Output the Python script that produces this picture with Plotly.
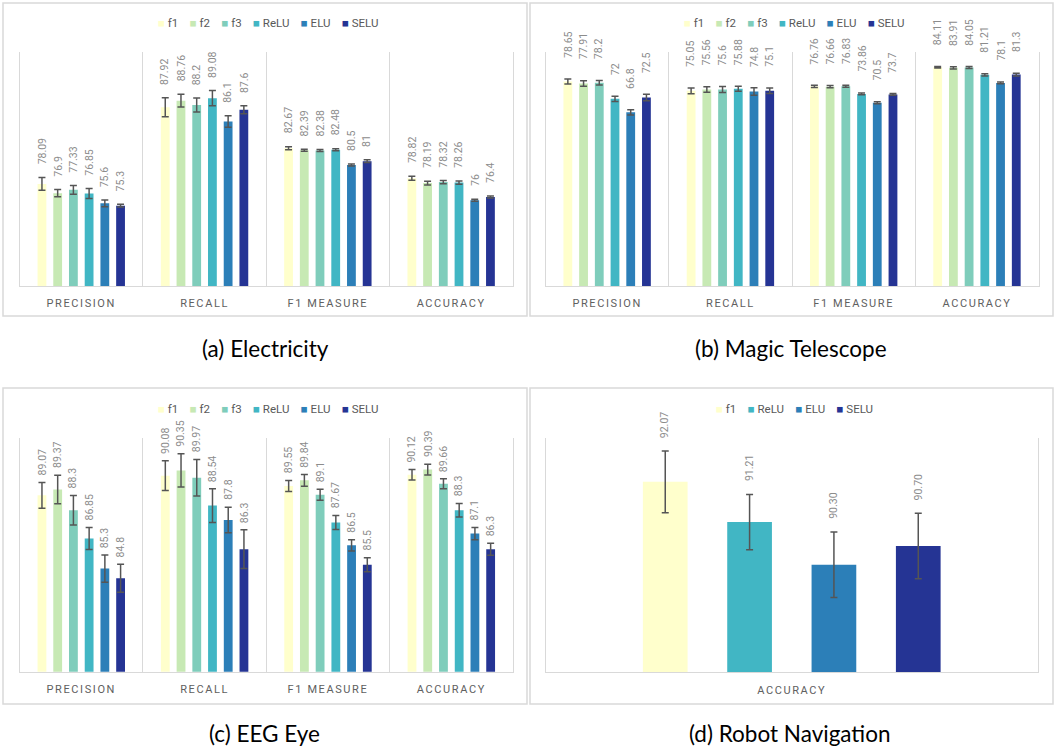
import plotly.graph_objects as go

W, H = 1054, 751

metrics = ["PRECISION", "RECALL", "F1 MEASURE", "ACCURACY"]
activations = ["f1", "f2", "f3", "ReLU", "ELU", "SELU"]
palette = {
    "f1": "#ffffcc", "f2": "#c7e9b4", "f3": "#7fcdbb",
    "ReLU": "#41b6c4", "ELU": "#2c7fb8", "SELU": "#253494",
}

# Electricity (values per activation, in the order of `activations`)
elec_precision = [78.09, 76.9, 77.33, 76.85, 75.6, 75.3]
elec_recall = [87.92, 88.76, 88.2, 89.08, 86.1, 87.6]
elec_f1 = [82.67, 82.39, 82.38, 82.48, 80.5, 81]
elec_accuracy = [78.82, 78.19, 78.32, 78.26, 76, 76.4]
elec_precision_sd = [0.83, 0.47, 0.57, 0.64, 0.43, 0.17]
elec_recall_sd = [1.21, 0.81, 0.89, 0.98, 0.74, 0.51]
elec_f1_sd = [0.19, 0.13, 0.13, 0.13, 0.13, 0.17]
elec_accuracy_sd = [0.26, 0.23, 0.21, 0.21, 0.13, 0.13]

# Magic Telescope
magic_precision = [78.65, 77.91, 78.2, 72, 66.8, 72.5]
magic_recall = [75.05, 75.56, 75.6, 75.88, 74.8, 75.1]
magic_f1 = [76.76, 76.66, 76.83, 73.86, 70.5, 73.7]
magic_accuracy = [84.11, 83.91, 84.05, 81.21, 78.1, 81.3]
magic_precision_sd = [0.95, 1.07, 0.88, 1.0, 1.0, 1.26]
magic_recall_sd = [1.14, 1.07, 1.14, 0.95, 1.45, 1.07]
magic_f1_sd = [0.45, 0.45, 0.35, 0.35, 0.4, 0.35]
magic_accuracy_sd = [0.3, 0.45, 0.35, 0.4, 0.35, 0.55]

# EEG Eye
eeg_precision = [89.07, 89.37, 88.3, 86.85, 85.3, 84.8]
eeg_recall = [90.08, 90.35, 89.97, 88.54, 87.8, 86.3]
eeg_f1 = [89.55, 89.84, 89.1, 87.67, 86.5, 85.5]
eeg_accuracy = [90.12, 90.39, 89.66, 88.3, 87.1, 86.3]
eeg_precision_sd = [0.66, 0.73, 0.76, 0.57, 0.70, 0.72]
eeg_recall_sd = [0.77, 0.86, 0.94, 0.87, 0.66, 1.0]
eeg_f1_sd = [0.28, 0.30, 0.28, 0.36, 0.29, 0.36]
eeg_accuracy_sd = [0.27, 0.28, 0.26, 0.35, 0.31, 0.31]

# Robot Navigation (accuracy only)
robot_metrics = ["ACCURACY"]
robot_activations = ["f1", "ReLU", "ELU", "SELU"]
robot_accuracy = [92.07, 91.21, 90.30, 90.70]
robot_accuracy_sd = [0.66, 0.59, 0.70, 0.70]

captions = ["(a) Electricity", "(b) Magic Telescope", "(c) EEG Eye", "(d) Robot Navigation"]

GRID = "#d9d9d9"
LABEL_GRAY = "#8c8c8c"
TEXT_GRAY = "#606060"
ERR_GRAY = "#555555"

fig = go.Figure()
annotations = []
shapes = []


def px_x(v):
    return v / W


def px_y(v):
    return 1 - v / H


def add_panel(n, cats, names, table, sd_table, yrange, fmt, gap, groupgap,
              label_gap_px, plot_box, frame_box, legend_xy, caption_xy, caption):
    sx = "" if n == 1 else str(n)
    xref, yref = "x" + sx, "y" + sx
    x0, y0, x1, y1 = plot_box
    slot = (1 - gap) / len(names)
    bar_w = slot * (1 - groupgap)
    for k, name in enumerate(names):
        y = [col[k] for col in table]
        e = [col[k] for col in sd_table]
        offset = -(1 - gap) / 2 + slot * k + (slot - bar_w) / 2
        fig.add_trace(go.Bar(
            x=cats, y=y, name=name, xaxis=xref, yaxis=yref,
            width=bar_w, offset=offset, showlegend=False,
            marker=dict(color=palette[name], line=dict(width=0)),
            error_y=dict(type="data", array=e, color=ERR_GRAY,
                         thickness=1.5, width=3.5),
        ))
        centre = -(1 - gap) / 2 + slot * (k + 0.5)
        for i, (v, s) in enumerate(zip(y, e)):
            # value label sits above the top of the error bar
            annotations.append(dict(
                x=i + centre, y=v + s, xref=xref, yref=yref,
                text=fmt(v), showarrow=False, textangle=-90,
                xanchor="center", yanchor="bottom", yshift=label_gap_px,
                borderpad=0,
                font=dict(family="Roboto", size=10.5, color=LABEL_GRAY),
            ))

    fig.update_layout({
        "xaxis" + sx: dict(
            domain=[px_x(x0), px_x(x1)], anchor=yref, type="category",
            tickson="boundaries", showgrid=True, gridcolor=GRID, gridwidth=1,
            showline=True, linecolor=GRID, linewidth=1, ticks="",
            ticklabelstandoff=7, fixedrange=True,
            tickfont=dict(family="Roboto", size=11, color=TEXT_GRAY),
        ),
        "yaxis" + sx: dict(
            domain=[px_y(y1), px_y(y0)], anchor=xref, range=yrange,
            showticklabels=False, showgrid=False, zeroline=False,
            showline=True, mirror=True, linecolor=GRID, linewidth=1,
            ticks="", fixedrange=True,
        ),
    })

    fx0, fy0, fx1, fy1 = frame_box
    shapes.append(dict(type="rect", xref="paper", yref="paper",
                       x0=px_x(fx0), x1=px_x(fx1), y0=px_y(fy1), y1=px_y(fy0),
                       line=dict(color=GRID, width=1.5), layer="below"))

    nb = "\u00a0"
    parts = [f'<span style="color:{palette[nm]}">\u25a0</span>{nb}{nm}' for nm in names]
    annotations.append(dict(
        x=px_x(legend_xy[0]), y=px_y(legend_xy[1]), xref="paper", yref="paper",
        text=(nb * 4).join(parts), showarrow=False, xanchor="center", yanchor="middle",
        font=dict(family="Roboto", size=11.5, color="#595959"),
    ))
    annotations.append(dict(
        x=px_x(caption_xy[0]), y=px_y(caption_xy[1]), xref="paper", yref="paper",
        text=caption, showarrow=False, xanchor="center", yanchor="middle",
        font=dict(family="Lato", size=22.5, color="#000000"),
    ))


fmt_general = lambda v: f"{v:g}"
fmt_two = lambda v: f"{v:.2f}"

add_panel(1, metrics, activations,
          [elec_precision, elec_recall, elec_f1, elec_accuracy],
          [elec_precision_sd, elec_recall_sd, elec_f1_sd, elec_accuracy_sd],
          [65, 95], fmt_general, 0.235, 0.44, 12,
          (19.6, 52, 512.8, 286), (3, 3, 527, 316), (268, 23), (265, 348), captions[0])

add_panel(2, metrics, activations,
          [magic_precision, magic_recall, magic_f1, magic_accuracy],
          [magic_precision_sd, magic_recall_sd, magic_f1_sd, magic_accuracy_sd],
          [0, 90], fmt_general, 0.235, 0.44, 20,
          (545.5, 52, 1038.6, 286), (530, 3, 1053, 316), (794, 23), (791, 348), captions[1])

add_panel(3, metrics, activations,
          [eeg_precision, eeg_recall, eeg_f1, eeg_accuracy],
          [eeg_precision_sd, eeg_recall_sd, eeg_f1_sd, eeg_accuracy_sd],
          [80, 92], fmt_general, 0.235, 0.44, 6,
          (19.6, 438.3, 513, 671.7), (3, 388, 527, 704), (268, 409), (264, 733), captions[2])

add_panel(4, robot_metrics, robot_activations,
          [robot_accuracy], [robot_accuracy_sd],
          [88, 93], fmt_two, 0.315, 0.47, 12,
          (545.5, 438.3, 1038, 672.3), (530, 388, 1053, 704), (794, 409), (790, 733), captions[3])

fig.update_layout(
    width=W, height=H, margin=dict(l=0, r=0, t=0, b=0),
    paper_bgcolor="white", plot_bgcolor="white",
    barmode="group", showlegend=False,
    annotations=annotations, shapes=shapes,
)

# Spread the category labels on every panel (letter spacing).
spacing_js = """
var gd = document.getElementById('{plot_id}');
function spaceTicks() {
  gd.querySelectorAll('.xaxislayer-above text').forEach(function (t) {
    t.style.letterSpacing = '1.6px';
  });
}
spaceTicks();
gd.on('plotly_afterplot', spaceTicks);
"""

fig.write_html("out.html", post_script=spacing_js)
